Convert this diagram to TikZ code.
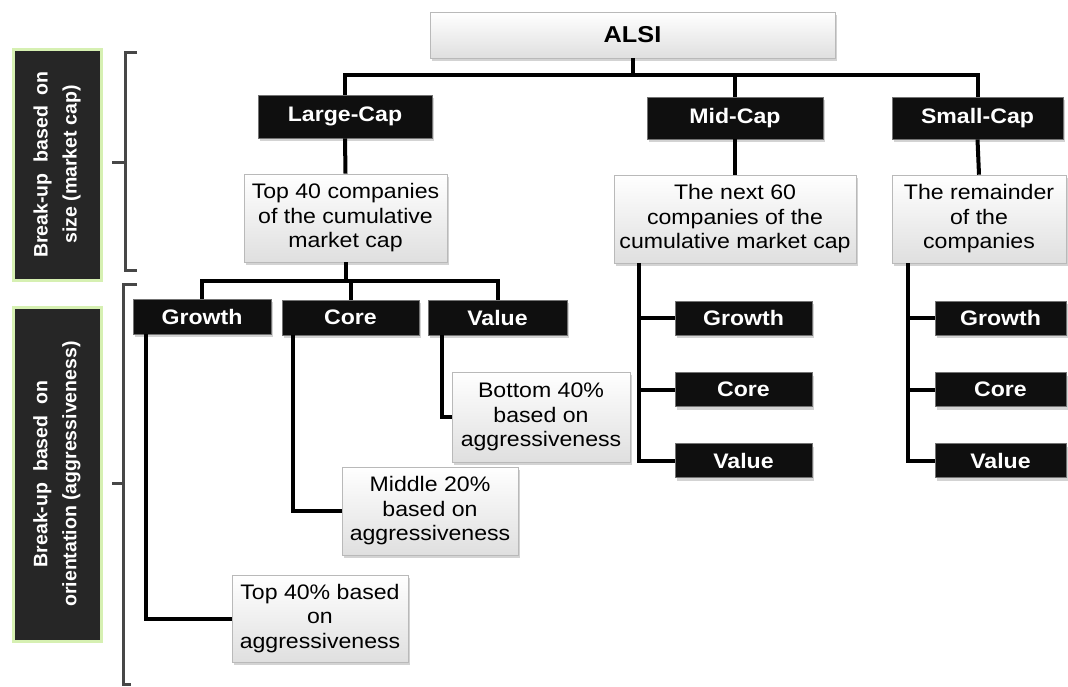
\documentclass[tikz,border=0pt]{standalone}
\usepackage{fontspec}
\setmainfont{Liberation Sans}[FakeStretch=1.1]
\newfontfamily\labfont{Liberation Sans}
\usetikzlibrary{shadows}
\definecolor{glow}{RGB}{214,240,178}
\begin{document}
\begin{tikzpicture}[x=1pt,y=-1pt,
  lightbox/.style={draw=gray!55, line width=0.6pt, top color=white, bottom color=gray!25,
    drop shadow={shadow xshift=2pt, shadow yshift=-3pt, opacity=0.35},
    align=center, inner sep=0pt, text=black, font=\fontsize{21}{24.5}\selectfont},
  darkbox/.style={draw=black!55, line width=0.8pt, fill=black!94,
    drop shadow={shadow xshift=2pt, shadow yshift=-3pt, opacity=0.35},
    align=center, inner sep=0pt, text=white, font=\bfseries\fontsize{21}{24}\selectfont},
  sidebox/.style={fill=black!85, draw=glow, line width=3pt, rotate=90, align=center,
    inner sep=0pt, text=white, font=\labfont\bfseries\fontsize{19.5}{29}\selectfont},
  conn/.style={line width=4pt, black},
  bracket/.style={line width=3pt, black!72}
]
\useasboundingbox (0,0) rectangle (1068,686);

% side labels
\node[sidebox, minimum width=231pt, minimum height=88pt] (lab1) at (57,164.5) {Break-up\ \ based\ \ on\\size (market cap)};
\node[sidebox, minimum width=334pt, minimum height=88pt] (lab2) at (57,474) {Break-up\ \ based\ \ on\\orientation (aggressiveness)};

% brackets
\draw[bracket] (137,52) -- (125,52) -- (125,270) -- (137,270);
\draw[bracket] (125,162) -- (112,162);
\draw[bracket] (137,284) -- (123,284) -- (123,684) -- (131,684);
\draw[bracket] (123,483) -- (112,483);

% top level
\node[lightbox, minimum width=405pt, minimum height=46pt, font=\bfseries\fontsize{23}{26}\selectfont] (alsi) at (632.5,35) {ALSI};
\node[darkbox, minimum width=174pt, minimum height=43pt] (large) at (345,116.5) {Large-Cap};
\node[darkbox, minimum width=176pt, minimum height=42pt] (mid) at (735,118) {Mid-Cap};
\node[darkbox, minimum width=171pt, minimum height=42pt] (small) at (977.5,118) {Small-Cap};

% descriptions
\node[lightbox, minimum width=203pt, minimum height=88pt] (d1) at (345.5,218) {Top 40 companies\\of the cumulative\\market cap};
\node[lightbox, minimum width=242pt, minimum height=88pt] (d2) at (735,219) {The next 60\\companies of the\\cumulative market cap};
\node[lightbox, minimum width=174pt, minimum height=88pt] (d3) at (979,219) {The remainder\\of the\\companies};

% large-cap styles
\node[darkbox, minimum width=138pt, minimum height=35pt] (g1) at (202,316.5) {Growth};
\node[darkbox, minimum width=137pt, minimum height=35pt] (c1) at (350.5,317.5) {Core};
\node[darkbox, minimum width=139pt, minimum height=35pt] (v1) at (497.5,317.5) {Value};

\node[lightbox, minimum width=178pt, minimum height=90pt] (b1) at (541,417) {Bottom 40\%\\based on\\aggressiveness};
\node[lightbox, minimum width=176pt, minimum height=88pt] (m1) at (430,511) {Middle 20\%\\based on\\aggressiveness};
\node[lightbox, minimum width=176pt, minimum height=87pt] (t1) at (320,618.5) {Top 40\% based\\on\\aggressiveness};

% mid-cap styles
\node[darkbox, minimum width=137pt, minimum height=34pt] (mg) at (743.5,318) {Growth};
\node[darkbox, minimum width=137pt, minimum height=34pt] (mc) at (743.5,389.5) {Core};
\node[darkbox, minimum width=137pt, minimum height=34pt] (mv) at (743.5,460.5) {Value};

% small-cap styles
\node[darkbox, minimum width=131pt, minimum height=34pt] (sg) at (1000.5,318) {Growth};
\node[darkbox, minimum width=131pt, minimum height=34pt] (sc) at (1000.5,389.5) {Core};
\node[darkbox, minimum width=131pt, minimum height=34pt] (sv) at (1000.5,460.5) {Value};

% connectors
\coordinate (j0) at (632.5,75);
\draw[conn] (alsi.south) -- (j0);
\draw[conn] (j0) -| (large.north);
\draw[conn] (j0) -| (mid.north);
\draw[conn] (j0) -| (small.north);
\draw[conn] (large.south) -- (d1.north);
\draw[conn] (mid.south) -- (d2.north);
\draw[conn] (small.south) -- (d3.north);

\coordinate (j1) at (345.5,281);
\draw[conn] (d1.south) -- (j1);
\draw[conn] (j1) -| (g1.north);
\draw[conn] (j1) -| (c1.north);
\draw[conn] (j1) -| (v1.north);

\draw[conn] ([xshift=13pt]g1.south west) |- (t1.west);
\draw[conn] ([xshift=11pt]c1.south west) |- (m1.west);
\draw[conn] ([xshift=14pt]v1.south west) |- (b1.west);

\draw[conn] ([xshift=25pt]d2.south west) |- (mg.west);
\draw[conn] ([xshift=25pt]d2.south west) |- (mc.west);
\draw[conn] ([xshift=25pt]d2.south west) |- (mv.west);

\draw[conn] ([xshift=16pt]d3.south west) |- (sg.west);
\draw[conn] ([xshift=16pt]d3.south west) |- (sc.west);
\draw[conn] ([xshift=16pt]d3.south west) |- (sv.west);
\end{tikzpicture}
\end{document}
